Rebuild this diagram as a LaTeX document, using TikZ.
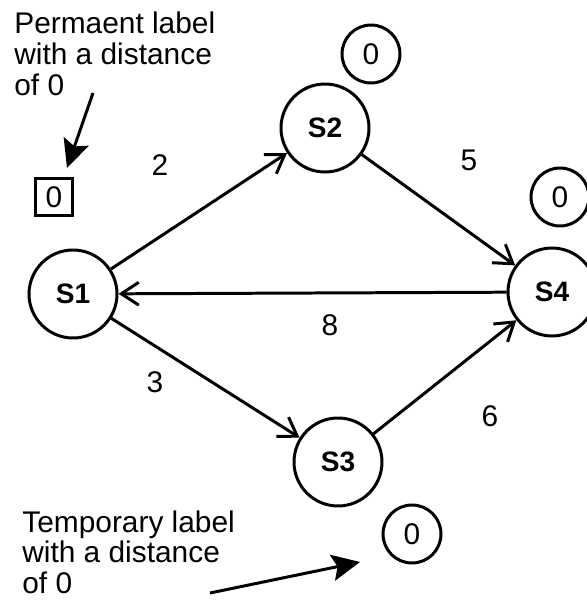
\documentclass[tikz,border=0pt]{standalone}
\usepackage{fontspec}
\setmainfont{Liberation Sans}
\usetikzlibrary{arrows.meta}
\tikzset{
  state/.style={circle,draw,line width=1.7pt,minimum size=1.76cm,inner sep=0pt,font=\fontsize{16}{18}\selectfont\bfseries},
  dist/.style={circle,draw,line width=1.7pt,minimum size=1.16cm,inner sep=0pt},
  perm/.style={rectangle,draw,line width=1.7pt,minimum size=0.74cm,inner sep=0pt},
  edge/.style={line width=1.7pt,-{Straight Barb[length=10pt,width=13pt,line width=1.7pt]}},
  pointer/.style={line width=1.7pt,-{Stealth[length=16pt,width=15pt,inset=3pt]}},
  note/.style={align=left,inner sep=0pt,anchor=north west}
}
\begin{document}
\begin{tikzpicture}[x=0.02cm,y=-0.02cm,fill=white,font=\fontsize{17}{17.6}\selectfont]
\useasboundingbox (0,0) rectangle (587,602);
% states
\node[state] (s1) at (73,294) {S1};
\node[state] (s2) at (325,128) {S2};
\node[state] (s3) at (338,462) {S3};
\node[state] (s4) at (552,292) {S4};
% labels
\node[perm] (p1) at (54,197) {0};
\node[dist] (d2) at (371,54) {0};
\node[dist] (d4) at (560,197) {0};
\node[dist] (d3) at (412,534) {0};
% edges
\draw[edge] (s1) -- (s2);
\draw[edge] (s2) -- (s4);
\draw[edge] (s4) -- (s1);
\draw[edge] (s1) -- (s3);
\draw[edge] (s3) -- (s4);
\node (w12) at (160,165) {2};
\node (w24) at (469,160) {5};
\node (w41) at (330,325) {8};
\node (w13) at (155,382) {3};
\node (w34) at (490,416) {6};
% notes
\node[note] (n1) at (14,12) {Permaent label\\with a distance\\of 0};
\node[note] (n2) at (22,510) {Temporary label\\with a distance\\of 0};
\coordinate (a1) at (93,93);
\coordinate (b1) at (67,168);
\coordinate (a2) at (210,593);
\coordinate (b2) at (360,562);
\draw[pointer] (a1) -- (b1);
\draw[pointer] (a2) -- (b2);
\end{tikzpicture}
\end{document}
